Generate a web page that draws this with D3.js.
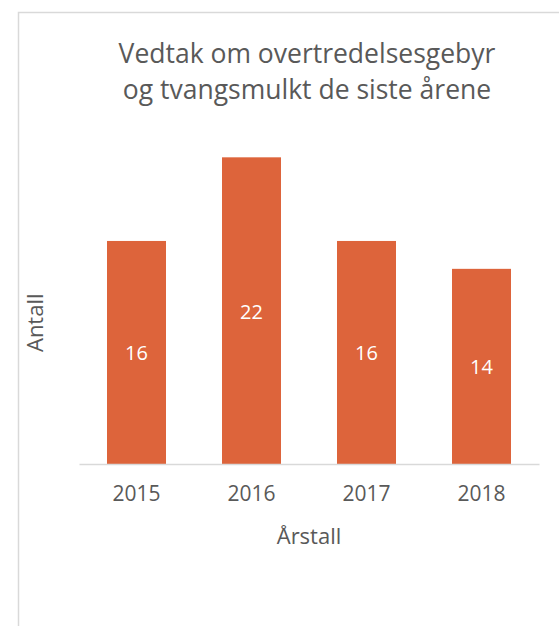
<!DOCTYPE html>
<html>
<head>
<meta charset="utf-8">
<script src="https://cdn.jsdelivr.net/npm/d3@7"></script>
<style>
  body { margin: 0; background: #fff; }
  svg { display: block; font-family: "Open Sans", sans-serif; }
</style>
</head>
<body>
<svg id="chart" width="559" height="626"></svg>
<script>
const years = ["2015", "2016", "2017", "2018"];
const counts = [16, 22, 16, 14];
const titleLines = ["Vedtak om overtredelsesgebyr", "og tvangsmulkt de siste årene"];
const xTitle = "Årstall";
const yTitle = "Antall";

const svg = d3.select("#chart");
const textColor = "#595959";
const barColor = "#DD643B";
const lineColor = "#D9D9D9";

// chart area border (runs off the right and bottom edges)
svg.append("rect")
  .attr("x", 18.5)
  .attr("y", 12.5)
  .attr("width", 600)
  .attr("height", 700)
  .attr("fill", "#fff")
  .attr("stroke", lineColor)
  .attr("stroke-width", 1.5);

const plot = { left: 79, right: 539, top: 115.5, bottom: 464 };

const x = d3.scaleBand()
  .domain(years)
  .range([plot.left, plot.right])
  .paddingInner(0.487)
  .paddingOuter(0.2435);

const y = d3.scaleLinear()
  .domain([0, 25])
  .range([plot.bottom, plot.top]);

const data = years.map((yr, i) => ({ year: yr, value: counts[i] }));

svg.append("g")
  .selectAll("rect")
  .data(data)
  .enter()
  .append("rect")
  .attr("x", d => x(d.year))
  .attr("y", d => y(d.value))
  .attr("width", x.bandwidth())
  .attr("height", d => y(0) - y(d.value))
  .attr("fill", barColor);

// value labels in the middle of each bar
svg.append("g")
  .selectAll("text")
  .data(data)
  .enter()
  .append("text")
  .attr("x", d => x(d.year) + x.bandwidth() / 2)
  .attr("y", d => (y(d.value) + y(0)) / 2)
  .attr("dy", "0.4em")
  .attr("text-anchor", "middle")
  .attr("fill", "#fff")
  .attr("font-size", 20)
  .text(d => d.value);

// x axis
const xAxis = svg.append("g")
  .attr("transform", `translate(0,${plot.bottom})`)
  .call(d3.axisBottom(x).tickSize(0).tickPadding(22));
xAxis.select(".domain")
  .attr("stroke", lineColor)
  .attr("stroke-width", 1.5);
xAxis.selectAll("text")
  .attr("fill", textColor)
  .attr("font-size", 21)
  .attr("font-family", "Open Sans, sans-serif");

// axis titles
svg.append("text")
  .attr("x", (plot.left + plot.right) / 2)
  .attr("y", 536)
  .attr("dy", "0.35em")
  .attr("text-anchor", "middle")
  .attr("fill", textColor)
  .attr("font-size", 22)
  .text(xTitle);

svg.append("text")
  .attr("transform", `translate(35,${(plot.top + plot.bottom) / 2 + 33}) rotate(-90)`)
  .attr("dy", "0.35em")
  .attr("text-anchor", "middle")
  .attr("fill", textColor)
  .attr("font-size", 22)
  .text(yTitle);

// title
svg.append("g")
  .selectAll("text")
  .data(titleLines)
  .enter()
  .append("text")
  .attr("x", 307)
  .attr("y", (d, i) => 63 + i * 36)
  .attr("text-anchor", "middle")
  .attr("fill", textColor)
  .attr("font-size", 26.5)
  .text(d => d);
</script>
</body>
</html>
